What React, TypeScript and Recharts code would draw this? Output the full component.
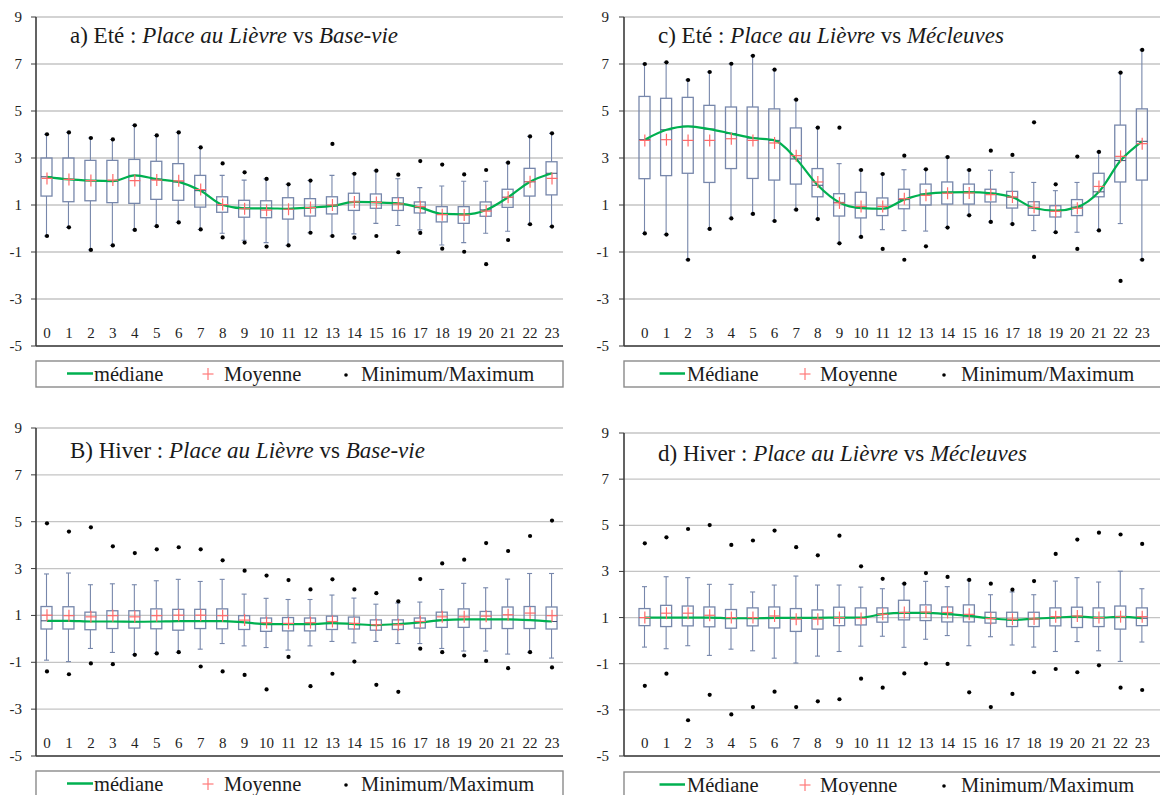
import React from 'react';
import { ComposedChart, Bar, Line, XAxis, YAxis, CartesianGrid } from 'recharts';

const hours = ['0','1','2','3','4','5','6','7','8','9','10','11','12','13','14','15','16','17','18','19','20','21','22','23'];
const yTicks = [-5, -3, -1, 1, 3, 5, 7, 9];

// a) Eté : Place au Lièvre vs Base-vie
const aMax = [4.01,4.09,3.85,3.79,4.39,3.96,4.09,3.45,2.77,2.39,2.11,1.88,2.04,3.6,2.33,2.46,2.29,2.87,2.72,2.3,2.49,2.8,3.92,4.05];
const aWhiHi = [4.01,4.09,3.85,3.79,4.39,3.96,4.09,3.45,2.26,2.06,2.11,1.88,2.04,2.26,2.33,2.46,2.12,1.74,1.81,2.01,2.01,2.8,3.92,4.05];
const aQ3 = [3.0,3.0,2.9,2.9,2.94,2.86,2.76,2.26,1.35,1.2,1.18,1.31,1.27,1.35,1.5,1.47,1.31,1.13,0.93,0.93,1.13,1.67,2.56,2.84];
const aMed = [2.2,2.09,2.04,2.02,2.26,2.1,1.98,1.61,1.0,0.86,0.86,0.84,0.89,0.96,1.13,1.11,1.07,0.89,0.62,0.6,0.79,1.33,1.99,2.35];
const aMean = [2.13,2.09,2.04,2.06,2.04,2.06,2.03,1.66,1.02,0.84,0.78,0.82,0.89,1.0,1.13,1.11,1.05,0.93,0.59,0.57,0.74,1.33,1.99,2.13];
const aQ1 = [1.38,1.14,1.18,1.1,1.07,1.24,1.2,0.91,0.69,0.48,0.46,0.4,0.53,0.62,0.77,0.86,0.77,0.66,0.28,0.22,0.52,0.9,1.38,1.43];
const aWhiLo = [-0.32,0.05,-0.91,-0.72,-0.06,0.1,0.26,-0.04,-0.2,-0.5,-0.6,-0.72,-0.18,-0.32,-0.23,0.22,0.13,-0.06,-0.7,-0.6,-0.2,-0.12,0.18,0.08];
const aMin = [-0.32,0.05,-0.91,-0.72,-0.06,0.1,0.26,-0.04,-0.38,-0.6,-0.77,-0.72,-0.18,-0.32,-0.39,-0.32,-1.01,-0.19,-0.86,-0.99,-1.52,-0.49,0.18,0.08];

// c) Eté : Place au Lièvre vs Mécleuves
const cMax = [7.0,7.07,6.32,6.66,7.01,7.35,6.76,5.48,4.29,4.29,2.49,2.32,3.1,2.52,3.04,2.49,3.31,3.13,4.52,1.88,3.06,3.26,6.63,7.6];
const cWhiHi = [7.0,7.07,6.32,6.66,7.01,7.35,6.76,5.48,4.29,2.76,2.49,2.32,2.5,2.52,3.04,2.49,2.48,2.39,1.96,1.61,1.96,3.26,6.63,7.6];
const cQ3 = [5.62,5.54,5.58,5.24,5.17,5.17,5.09,4.28,2.55,1.48,1.54,1.3,1.67,1.89,1.98,1.89,1.67,1.58,1.14,0.97,1.23,2.35,4.4,5.09];
const cMed = [3.78,4.2,4.35,4.23,4.04,3.85,3.75,2.96,1.84,1.11,0.87,0.84,1.23,1.47,1.54,1.55,1.5,1.33,0.87,0.76,0.91,1.56,2.89,3.71];
const cMean = [3.75,3.78,3.75,3.75,3.82,3.75,3.64,3.1,1.98,1.09,0.94,0.94,1.27,1.41,1.5,1.51,1.44,1.34,0.9,0.73,0.86,1.79,3.07,3.61];
const cQ1 = [2.12,2.25,2.35,1.96,2.55,2.13,2.06,1.89,1.35,0.53,0.45,0.55,0.84,1.0,1.04,1.04,1.13,0.87,0.56,0.49,0.55,1.35,1.98,2.06];
const cWhiLo = [-0.21,-0.26,-1.33,-0.02,0.43,0.62,0.32,0.8,0.4,-0.63,-0.36,-0.05,-0.09,-0.11,0.04,0.56,0.28,0.19,-0.09,-0.16,-0.16,-0.08,0.21,-1.33];
const cMin = [-0.21,-0.26,-1.33,-0.02,0.43,0.62,0.32,0.8,0.4,-0.63,-0.36,-0.87,-1.33,-0.76,0.04,0.56,0.28,0.19,-1.21,-0.16,-0.87,-0.08,-2.23,-1.33];

// B) Hiver : Place au Lièvre vs Base-vie
const bMax = [4.93,4.58,4.76,3.95,3.66,3.82,3.91,3.82,3.35,2.91,2.7,2.51,2.11,2.54,2.11,1.95,1.6,2.55,3.22,3.38,4.09,3.75,4.39,5.05];
const bWhiHi = [2.77,2.81,2.31,2.35,2.31,2.48,2.54,2.45,2.54,1.91,1.73,1.68,1.68,1.87,1.74,1.48,1.53,1.57,2.11,2.37,2.18,2.55,2.79,2.79];
const bQ3 = [1.38,1.37,1.14,1.2,1.2,1.28,1.26,1.26,1.28,0.99,0.89,0.91,0.89,0.97,0.93,0.81,0.81,0.89,1.14,1.28,1.17,1.36,1.38,1.36];
const bMed = [0.77,0.77,0.74,0.74,0.73,0.74,0.76,0.76,0.76,0.7,0.63,0.63,0.63,0.67,0.63,0.59,0.63,0.7,0.8,0.83,0.83,0.83,0.8,0.74];
const bMean = [1.01,0.99,0.94,0.99,0.94,0.99,1.01,1.01,0.99,0.8,0.69,0.66,0.69,0.74,0.66,0.6,0.6,0.74,0.94,0.94,0.97,1.03,1.1,0.99];
const bQ1 = [0.42,0.42,0.39,0.44,0.46,0.43,0.37,0.44,0.43,0.4,0.32,0.34,0.34,0.4,0.42,0.37,0.4,0.46,0.49,0.49,0.44,0.44,0.44,0.42];
const bWhiLo = [-0.91,-0.97,-0.41,-0.58,-0.68,-0.62,-0.57,-0.44,-0.2,-0.3,-0.37,-0.48,-0.3,-0.11,-0.17,-0.11,-0.2,-0.2,-0.41,-0.52,-0.52,-0.65,-0.57,-0.82];
const bMin = [-1.39,-1.51,-1.05,-1.08,-0.68,-0.62,-0.57,-1.18,-1.39,-1.54,-2.16,-0.77,-2.02,-1.49,-0.97,-1.96,-2.26,-0.42,-0.57,-0.71,-0.94,-1.25,-0.57,-1.22];

// d) Hiver : Place au Lièvre vs Mécleuves
const dMax = [4.22,4.48,4.84,5.01,4.15,4.34,4.77,4.05,3.7,4.55,3.22,2.68,2.47,2.93,2.76,2.63,2.47,2.21,2.58,3.76,4.38,4.68,4.6,4.19];
const dWhiHi = [2.34,2.77,2.73,2.44,2.44,2.11,2.41,2.8,2.41,2.41,2.32,2.25,2.47,2.57,2.34,2.63,1.99,2.11,1.99,2.58,2.73,2.54,3.01,2.25];
const dQ3 = [1.39,1.53,1.5,1.46,1.35,1.42,1.46,1.39,1.33,1.45,1.42,1.42,1.75,1.55,1.46,1.55,1.23,1.23,1.23,1.42,1.45,1.42,1.5,1.42];
const dMed = [1.0,1.0,1.0,1.0,0.97,0.97,0.99,0.99,0.99,1.0,1.0,1.15,1.2,1.2,1.15,1.07,0.97,0.9,0.95,1.0,1.04,1.0,1.03,0.97];
const dMean = [1.0,1.19,1.19,1.1,1.0,1.0,1.07,0.93,0.93,1.0,0.96,1.14,1.22,1.24,1.22,1.14,0.96,0.93,0.94,1.04,1.07,1.0,1.04,1.04];
const dQ1 = [0.65,0.61,0.64,0.6,0.54,0.64,0.55,0.4,0.5,0.65,0.68,0.8,0.9,0.87,0.81,0.81,0.76,0.61,0.61,0.64,0.57,0.61,0.5,0.65];
const dWhiLo = [-0.28,-0.35,-0.22,-0.64,-0.37,-0.44,-0.76,-0.97,-0.67,-0.47,-0.24,0.19,-0.29,0.06,0.22,-0.22,0.17,-0.19,-0.28,-0.47,-0.04,-0.44,-0.9,-0.06];
const dMin = [-1.96,-1.43,-3.45,-2.35,-3.2,-2.88,-2.21,-2.88,-2.63,-2.54,-1.65,-2.04,-1.42,-0.99,-1.01,-2.24,-2.88,-2.31,-1.37,-1.23,-1.37,-1.07,-2.04,-2.14];

const build = (mx: number[], wh: number[], q3: number[], md: number[], mn: number[], q1: number[], wl: number[], mi: number[]) =>
  hours.map((h, i) => ({
    hour: h,
    range: [wl[i], wh[i]],
    whi: wh[i], wlo: wl[i], q1: q1[i], q3: q3[i], med: md[i], mean: mn[i], min: mi[i], max: mx[i],
  }));

const dataA = build(aMax, aWhiHi, aQ3, aMed, aMean, aQ1, aWhiLo, aMin);
const dataB = build(bMax, bWhiHi, bQ3, bMed, bMean, bQ1, bWhiLo, bMin);
const dataC = build(cMax, cWhiHi, cQ3, cMed, cMean, cQ1, cWhiLo, cMin);
const dataD = build(dMax, dWhiHi, dQ3, dMed, dMean, dQ1, dWhiLo, dMin);

const FONT = 'Liberation Serif, DejaVu Serif, serif';
const BOX = '#7787ab';
const FRAME = '#3c3c3c';

const BoxShape = (props: any) => {
  const { x, y, width, height, payload } = props;
  if (x == null || y == null || !payload) return <g />;
  const top = Math.min(y, y + height);
  const bot = Math.max(y, y + height);
  const hi = payload.whi;
  const lo = payload.wlo;
  const py = (v: number) => top + ((hi - v) / (hi - lo)) * (bot - top);
  const cx = x + width / 2;
  const yq3 = py(payload.q3);
  const yq1 = py(payload.q1);
  const ym = py(payload.med);
  return (
    <g>
      <line x1={cx} x2={cx} y1={top} y2={yq3} stroke={BOX} strokeWidth={1.1} />
      <line x1={cx} x2={cx} y1={yq1} y2={bot} stroke={BOX} strokeWidth={1.1} />
      <line x1={cx - 2.5} x2={cx + 2.5} y1={top} y2={top} stroke={BOX} strokeWidth={1.1} />
      <line x1={cx - 2.5} x2={cx + 2.5} y1={bot} y2={bot} stroke={BOX} strokeWidth={1.1} />
      <rect x={x} y={yq3} width={width} height={Math.max(0, yq1 - yq3)} fill="none" stroke={BOX} strokeWidth={1.3} />
      <line x1={x} x2={x + width} y1={ym} y2={ym} stroke="#3f4f74" strokeWidth={1} />
    </g>
  );
};

const DotShape = (props: any) => {
  const { cx, cy, index } = props;
  if (cx == null || cy == null) return <g key={`d${index}`} />;
  return <circle key={`d${index}`} cx={cx} cy={cy} r={2.1} fill="#000" />;
};

const PlusShape = (props: any) => {
  const { cx, cy, index } = props;
  if (cx == null || cy == null) return <g key={`p${index}`} />;
  return (
    <g key={`p${index}`}>
      <line x1={cx - 5.5} x2={cx + 5.5} y1={cy} y2={cy} stroke="#ff6a6a" strokeWidth={1.2} />
      <line x1={cx} x2={cx} y1={cy - 6} y2={cy + 6} stroke="#ff6a6a" strokeWidth={1.2} />
    </g>
  );
};

const XTick = (props: any) => {
  const { x, y, payload } = props;
  return (
    <text x={x} y={y - 8} textAnchor="middle" fontSize={15} style={{ fontFamily: FONT }} fill="#222">
      {payload.value}
    </text>
  );
};

const YTick = (props: any) => {
  const { x, y, payload } = props;
  return (
    <text x={x} y={y} dy={5} textAnchor="end" fontSize={15} style={{ fontFamily: FONT }} fill="#222">
      {payload.value}
    </text>
  );
};

type PanelProps = {
  data: any[];
  width: number;
  height: number;
  margin: { top: number; right: number; bottom: number; left: number };
  yWidth: number;
  padding: { left: number; right: number };
  tickMargin: number;
};

const Panel = ({ data, width, height, margin, yWidth, padding, tickMargin }: PanelProps) => (
  <ComposedChart width={width} height={height} data={data} margin={margin} style={{ fontFamily: FONT }}>
    <CartesianGrid vertical={false} stroke="#c4c4c4" strokeWidth={1.3} />
    <XAxis
      dataKey="hour"
      height={1}
      tickSize={0}
      tickMargin={0}
      interval={0}
      padding={padding}
      axisLine={{ stroke: FRAME, strokeWidth: 1.6 }}
      tickLine={false}
      tick={<XTick />}
    />
    <XAxis
      xAxisId="top"
      dataKey="hour"
      orientation="top"
      height={0}
      tick={false}
      tickLine={false}
      padding={padding}
      axisLine={{ stroke: FRAME, strokeWidth: 1.6 }}
    />
    <YAxis
      type="number"
      domain={[-5, 9]}
      ticks={yTicks}
      interval={0}
      width={yWidth}
      tickSize={5}
      tickMargin={tickMargin}
      allowDataOverflow
      axisLine={{ stroke: FRAME, strokeWidth: 1.6 }}
      tickLine={{ stroke: FRAME, strokeWidth: 1 }}
      tick={<YTick />}
    />
    <YAxis
      yAxisId="r"
      orientation="right"
      type="number"
      domain={[-5, 9]}
      width={0}
      tick={false}
      tickLine={false}
      axisLine={{ stroke: FRAME, strokeWidth: 1.6 }}
    />
    <Bar dataKey="range" barSize={11} shape={(p: any) => <BoxShape {...p} />} isAnimationActive={false} />
    <Line dataKey="med" type="monotone" stroke="#00b050" strokeWidth={2.2} dot={false} activeDot={false} isAnimationActive={false} />
    <Line dataKey="mean" stroke="none" dot={(p: any) => <PlusShape {...p} />} activeDot={false} isAnimationActive={false} />
    <Line dataKey="max" stroke="none" dot={(p: any) => <DotShape {...p} />} activeDot={false} isAnimationActive={false} />
    <Line dataKey="min" stroke="none" dot={(p: any) => <DotShape {...p} />} activeDot={false} isAnimationActive={false} />
  </ComposedChart>
);

const Title = ({ x, y, letter, season, site }: { x: number; y: number; letter: string; season: string; site: string }) => (
  <text x={x} y={y} fontSize={23} style={{ fontFamily: FONT }} fill="#1a1a1a">
    {`${letter} ${season} : `}
    <tspan fontStyle="italic">Place au Lièvre</tspan>
    {' vs '}
    <tspan fontStyle="italic">{site}</tspan>
  </text>
);

const LegendBox = ({ x, y, w, medLabel, off }: { x: number; y: number; w: number; medLabel: string; off: number[] }) => (
  <g style={{ fontFamily: FONT }}>
    <rect x={x} y={y} width={w} height={26} fill="#fff" stroke="#8a8a8a" strokeWidth={1.4} />
    <line x1={x + off[0]} x2={x + off[1]} y1={y + 12.5} y2={y + 12.5} stroke="#00b050" strokeWidth={2.5} />
    <text x={x + off[2]} y={y + 20} fontSize={20.5} fill="#1a1a1a">{medLabel}</text>
    <line x1={x + off[3] - 5.5} x2={x + off[3] + 5.5} y1={y + 13} y2={y + 13} stroke="#ff7a7a" strokeWidth={1.2} />
    <line x1={x + off[3]} x2={x + off[3]} y1={y + 7} y2={y + 19} stroke="#ff7a7a" strokeWidth={1.2} />
    <text x={x + off[4]} y={y + 20} fontSize={20.5} fill="#1a1a1a">Moyenne</text>
    <circle cx={x + off[5]} cy={y + 14} r={1.8} fill="#000" />
    <text x={x + off[6]} y={y + 20} fontSize={20.5} fill="#1a1a1a">Minimum/Maximum</text>
  </g>
);

const offLeft = [31, 57, 58, 172, 188, 310, 325];
const offRight = [35.5, 61, 63, 181, 196, 320, 337];

export default function App() {
  return (
    <div style={{ position: 'absolute', left: 0, top: 0, width: 1160, height: 795, overflow: 'hidden', background: '#fff', fontFamily: FONT }}>
      <div style={{ position: 'absolute', left: 0, top: 0 }}>
        <Panel data={dataA} width={580} height={360} margin={{ top: 17, right: 17, bottom: 13, left: 0 }} yWidth={36} padding={{ left: 0, right: 0 }} tickMargin={9} />
      </div>
      <div style={{ position: 'absolute', left: 580, top: 0 }}>
        <Panel data={dataC} width={600} height={360} margin={{ top: 17, right: 16, bottom: 13, left: 0 }} yWidth={44} padding={{ left: 10, right: 11 }} tickMargin={10} />
      </div>
      <div style={{ position: 'absolute', left: 0, top: 400 }}>
        <Panel data={dataB} width={580} height={370} margin={{ top: 28, right: 17, bottom: 13, left: 0 }} yWidth={36} padding={{ left: 0, right: 0 }} tickMargin={9} />
      </div>
      <div style={{ position: 'absolute', left: 580, top: 400 }}>
        <Panel data={dataD} width={600} height={370} margin={{ top: 33, right: 16, bottom: 13, left: 0 }} yWidth={44} padding={{ left: 10, right: 11 }} tickMargin={10} />
      </div>
      <svg width={1160} height={795} style={{ position: 'absolute', left: 0, top: 0, pointerEvents: 'none' }}>
        <Title x={70} y={43} letter="a)" season="Eté" site="Base-vie" />
        <Title x={658} y={43} letter="c)" season="Eté" site="Mécleuves" />
        <Title x={70} y={458} letter="B)" season="Hiver" site="Base-vie" />
        <Title x={658} y={461} letter="d)" season="Hiver" site="Mécleuves" />
        <LegendBox x={36} y={361} w={527} medLabel="médiane" off={offLeft} />
        <LegendBox x={624} y={361} w={560} medLabel="Médiane" off={offRight} />
        <LegendBox x={36} y={771} w={527} medLabel="médiane" off={offLeft} />
        <LegendBox x={624} y={772} w={560} medLabel="Médiane" off={offRight} />
      </svg>
    </div>
  );
}
